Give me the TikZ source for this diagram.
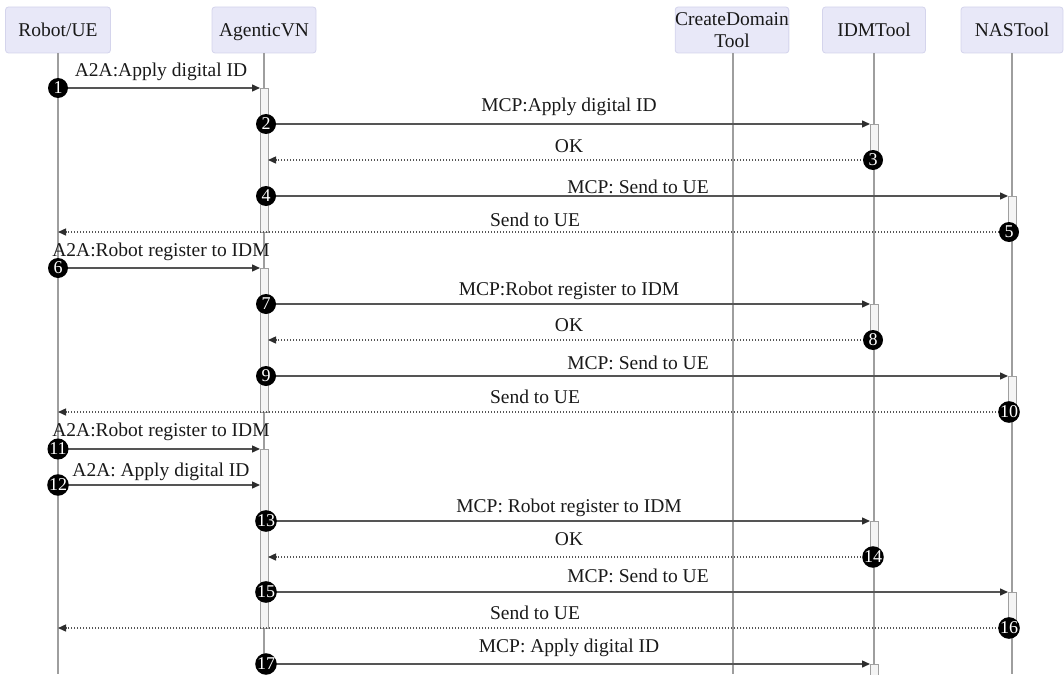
\documentclass[tikz,border=0pt]{standalone}
\usepackage{fontspec}
\setmainfont{Liberation Serif}
\usetikzlibrary{arrows.meta}

\definecolor{actorfill}{RGB}{232,232,248}
\definecolor{actorline}{RGB}{212,212,236}
\definecolor{lifeline}{RGB}{158,158,158}
\definecolor{msgline}{RGB}{85,85,85}
\definecolor{tipcol}{RGB}{45,45,45}
\definecolor{barfill}{RGB}{244,244,244}
\definecolor{barline}{RGB}{160,160,160}
\definecolor{txt}{RGB}{25,25,25}

\tikzset{
  actor/.style={draw=actorline, fill=actorfill, rounded corners=3pt, line width=0.8pt,
    minimum height=46pt, inner sep=0pt, font=\fontsize{19.5}{22.6}\selectfont,
    text=txt, align=center},
  single/.style={text height=13.6pt, text depth=0pt},
  life/.style={draw=lifeline, line width=1.6pt},
  bar/.style={draw=barline, fill=barfill, line width=0.9pt},
  msg/.style={draw=msgline, line width=1.4pt, -{Triangle[length=8pt,width=7pt,color=tipcol]}},
  reply/.style={msg, dash pattern=on 1.3pt off 1.7pt},
  lbl/.style={anchor=base, font=\fontsize{19.5}{22}\selectfont, text=txt, inner sep=0pt},
  seqnum/.style={circle, fill=black, text=white, minimum size=20pt, inner sep=0pt,
    font=\fontsize{18}{18}\selectfont},
}

\begin{document}
\begin{tikzpicture}[x=1pt, y=-1pt]
\useasboundingbox (0,0) rectangle (1064,674);

% participants
\node[actor, single, minimum width=105pt] (ue)      at (58,30)  {Robot/UE};
\node[actor, single, minimum width=104pt] (agentic) at (264,30) {AgenticVN};
\node[actor, minimum width=112pt]         (create)  at (732,30) {CreateDomain\\Tool};
\node[actor, single, minimum width=103pt] (idm)     at (874,30) {IDMTool};
\node[actor, single, minimum width=102pt] (nas)     at (1012,30) {NASTool};

% lifeline ends
\coordinate (ueEnd)      at (58,674);
\coordinate (agenticEnd) at (264,674);
\coordinate (createEnd)  at (733,674);
\coordinate (idmEnd)     at (874,674);
\coordinate (nasEnd)     at (1012,674);

\draw[life] (ue.south)      -- (ueEnd);
\draw[life] (agentic.south) -- (agenticEnd);
\draw[life] ([xshift=1pt]create.south) -- (createEnd);
\draw[life] (idm.south)     -- (idmEnd);
\draw[life] (nas.south)     -- (nasEnd);

% activation bar edges
\coordinate (aL) at (260,0);  \coordinate (aR) at (268,0);
\coordinate (iL) at (870,0);  \coordinate (iR) at (878,0);
\coordinate (nL) at (1008,0); \coordinate (nR) at (1016,0);

% message rows
\coordinate (m1)  at (0,88);
\coordinate (m2)  at (0,124);
\coordinate (m3)  at (0,160);
\coordinate (m4)  at (0,196);
\coordinate (m5)  at (0,232);
\coordinate (m6)  at (0,268);
\coordinate (m7)  at (0,304);
\coordinate (m8)  at (0,340);
\coordinate (m9)  at (0,376);
\coordinate (m10) at (0,412);
\coordinate (m11) at (0,449);
\coordinate (m12) at (0,485);
\coordinate (m13) at (0,521);
\coordinate (m14) at (0,557);
\coordinate (m15) at (0,592);
\coordinate (m16) at (0,628);
\coordinate (m17) at (0,664);
\coordinate (mEnd) at (0,690); % the last bar runs on below the page edge

% activation bars
\draw[bar] (aL |- m1)  rectangle (aR |- m5);
\draw[bar] (aL |- m6)  rectangle (aR |- m10);
\draw[bar] (aL |- m11) rectangle (aR |- m16);
\draw[bar] (iL |- m2)  rectangle (iR |- m3);
\draw[bar] (iL |- m7)  rectangle (iR |- m8);
\draw[bar] (iL |- m13) rectangle (iR |- m14);
\draw[bar] (iL |- m17) rectangle (iR |- mEnd);
\draw[bar] (nL |- m4)  rectangle (nR |- m5);
\draw[bar] (nL |- m9)  rectangle (nR |- m10);
\draw[bar] (nL |- m15) rectangle (nR |- m16);

% messages
\draw[msg]   (ue |- m1)  -- (aL |- m1);
\draw[msg]   (aR |- m2)  -- (iL |- m2);
\draw[reply] (iL |- m3)  -- (aR |- m3);
\draw[msg]   (aR |- m4)  -- (nL |- m4);
\draw[reply] (nL |- m5)  -- (ue |- m5);
\draw[msg]   (ue |- m6)  -- (aL |- m6);
\draw[msg]   (aR |- m7)  -- (iL |- m7);
\draw[reply] (iL |- m8)  -- (aR |- m8);
\draw[msg]   (aR |- m9)  -- (nL |- m9);
\draw[reply] (nL |- m10) -- (ue |- m10);
\draw[msg]   (ue |- m11) -- (aL |- m11);
\draw[msg]   (ue |- m12) -- (aL |- m12);
\draw[msg]   (aR |- m13) -- (iL |- m13);
\draw[reply] (iL |- m14) -- (aR |- m14);
\draw[msg]   (aR |- m15) -- (nL |- m15);
\draw[reply] (nL |- m16) -- (ue |- m16);
\draw[msg]   (aR |- m17) -- (iL |- m17);

% message labels
\node[lbl] (t1)  at (161,77)  {A2A:Apply digital ID};
\node[lbl] (t2)  at (569,112) {MCP:Apply digital ID};
\node[lbl] (t3)  at (569,152) {OK};
\node[lbl] (t4)  at (638,193) {MCP: Send to UE};
\node[lbl] (t5)  at (535,226) {Send to UE};
\node[lbl] (t6)  at (161,256) {A2A:Robot register to IDM};
\node[lbl] (t7)  at (569,295) {MCP:Robot register to IDM};
\node[lbl] (t8)  at (569,331) {OK};
\node[lbl] (t9)  at (638,369) {MCP: Send to UE};
\node[lbl] (t10) at (535,403) {Send to UE};
\node[lbl] (t11) at (161,436) {A2A:Robot register to IDM};
\node[lbl] (t12) at (161,476) {A2A: Apply digital ID};
\node[lbl] (t13) at (569,512) {MCP: Robot register to IDM};
\node[lbl] (t14) at (569,545) {OK};
\node[lbl] (t15) at (638,582) {MCP: Send to UE};
\node[lbl] (t16) at (535,619) {Send to UE};
\node[lbl] (t17) at (569,652) {MCP: Apply digital ID};

% sequence numbers
\node[seqnum] (n1)  at (ue |- m1)                 {1};
\node[seqnum] (n2)  at ([xshift=-2pt]aR |- m2)    {2};
\node[seqnum] (n3)  at ([xshift=3pt]iL |- m3)     {3};
\node[seqnum] (n4)  at ([xshift=-2pt]aR |- m4)    {4};
\node[seqnum] (n5)  at ([xshift=1pt]nL |- m5)     {5};
\node[seqnum] (n6)  at (ue |- m6)                 {6};
\node[seqnum] (n7)  at ([xshift=-2pt]aR |- m7)    {7};
\node[seqnum] (n8)  at ([xshift=3pt]iL |- m8)     {8};
\node[seqnum] (n9)  at ([xshift=-2pt]aR |- m9)    {9};
\node[seqnum] (n10) at ([xshift=1pt]nL |- m10)    {10};
\node[seqnum] (n11) at (ue |- m11)                {11};
\node[seqnum] (n12) at (ue |- m12)                {12};
\node[seqnum] (n13) at ([xshift=-2pt]aR |- m13)   {13};
\node[seqnum] (n14) at ([xshift=3pt]iL |- m14)    {14};
\node[seqnum] (n15) at ([xshift=-2pt]aR |- m15)   {15};
\node[seqnum] (n16) at ([xshift=1pt]nL |- m16)    {16};
\node[seqnum] (n17) at ([xshift=-2pt]aR |- m17)   {17};
\end{tikzpicture}
\end{document}
